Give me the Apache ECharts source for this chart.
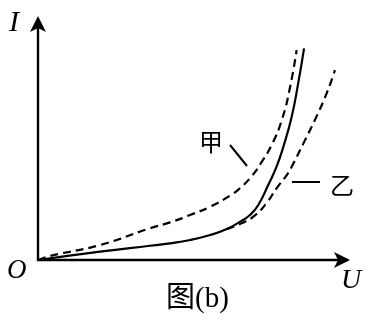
<!DOCTYPE html>
<html><head><meta charset="utf-8">
<script src="https://cdn.jsdelivr.net/npm/echarts@6/dist/echarts.min.js"></script>
<style>html,body{margin:0;padding:0;background:#fff}#c{width:375px;height:324px}</style>
</head><body><div id="c"></div>
<script>
// U, I values (arbitrary units, axes 0..10)
const solidData = [[0,0],[2.01,0.35],[3.62,0.60],[4.27,0.70],[4.92,0.84],[5.57,1.05],[6.11,1.30],[6.54,1.61],[6.86,1.89],[7.13,2.31],[7.45,3.15],[7.72,3.92],[7.94,4.76],[8.21,6.02],[8.42,7.42],[8.61,8.89]];
const jiaData = [[0,0],[0.39,0.17],[2.01,0.63],[3.62,1.33],[4.27,1.58],[4.92,1.89],[5.57,2.24],[6.21,2.70],[6.54,3.02],[6.92,3.53],[7.24,4.12],[7.56,4.83],[7.89,5.88],[8.16,7.28],[8.37,8.82]];
const yiData = [[6.11,1.30],[6.60,1.55],[7.00,1.85],[7.40,2.40],[7.72,3.01],[8.05,3.57],[8.21,3.92],[8.59,4.90],[8.96,5.88],[9.34,7.00],[9.61,7.98]];

const chart = echarts.init(document.getElementById('c'));
function axis(offset){
  return {
    type:'value', min:0, max:10,
    axisLine:{show:true, lineStyle:{color:'#000', width:2.4}, symbol:['none','arrow'], symbolSize:[12,16], symbolOffset:[0,offset]},
    axisTick:{show:false}, axisLabel:{show:false}, splitLine:{show:false}
  };
}
chart.setOption({
  animation:false,
  grid:{left:38, right:28, top:22, bottom:64},
  xAxis:axis(3),
  yAxis:axis(6),
  series:[
    {type:'line', data:solidData, smooth:0.5, showSymbol:false, lineStyle:{color:'#000', width:2.2}},
    {type:'line', data:jiaData, smooth:0.5, showSymbol:false, lineStyle:{color:'#000', width:2.2, type:[8,5]}},
    {type:'line', data:yiData, smooth:0.5, showSymbol:false, lineStyle:{color:'#000', width:2.2, type:[8,5]}}
  ],
  graphic:[
    {type:'text', left:9, top:8, style:{text:'I', font:'italic 30px "Liberation Serif"', fill:'#000'}},
    {type:'text', left:7, top:257, style:{text:'O', font:'italic 27px "Liberation Serif"', fill:'#000'}},
    {type:'text', left:341, top:267, style:{text:'U', font:'italic 28px "Liberation Serif"', fill:'#000'}},
    {type:'text', left:166, top:285, style:{text:'图(b)', font:'29px "Liberation Serif", "Noto Sans CJK SC"', fill:'#000'}},
    {type:'text', left:199, top:130, style:{text:'甲', font:'24px "Noto Sans CJK SC"', fill:'#000'}},
    {type:'text', left:330, top:173, style:{text:'乙', font:'24px "Noto Sans CJK SC"', fill:'#000'}},
    {type:'line', shape:{x1:230,y1:145,x2:247,y2:166}, style:{stroke:'#000', lineWidth:2}},
    {type:'line', shape:{x1:292,y1:182,x2:320,y2:182}, style:{stroke:'#000', lineWidth:2}}
  ]
});
</script></body></html>
